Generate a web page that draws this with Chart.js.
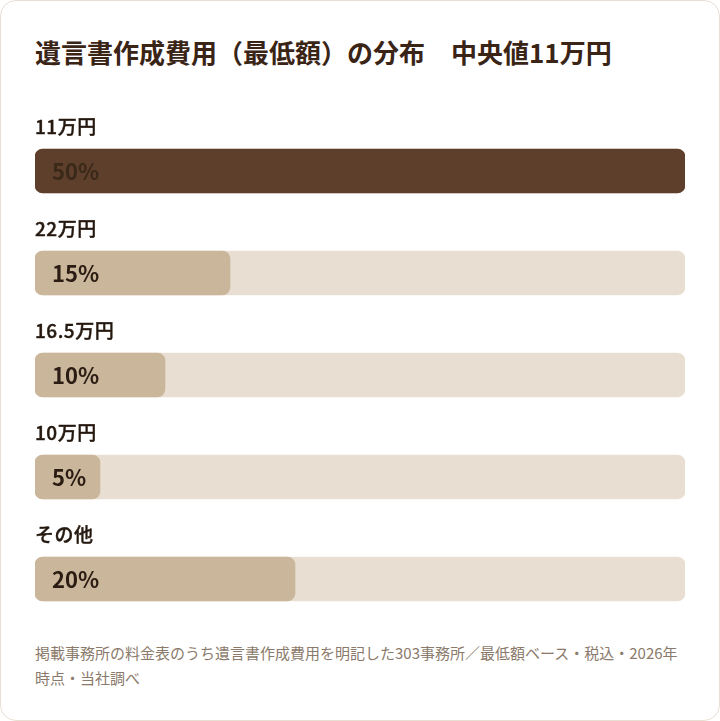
<!DOCTYPE html>
<html lang="ja">
<head>
<meta charset="utf-8">
<script src="https://cdn.jsdelivr.net/npm/chart.js@4/dist/chart.umd.min.js"></script>
<style>
    html, body { margin: 0; padding: 0; background: #ffffff; }
    body { width: 720px; height: 721px; position: relative; overflow: hidden; font-family: "Noto Sans CJK JP", "Noto Sans", sans-serif; }
    .card { position: absolute; left: 0; top: 0; width: 718px; height: 719px; border: 1px solid #e8dfd3; border-radius: 16px; background: #fff; }
    .title { position: absolute; left: 35px; top: 34px; margin: 0; font-size: 26px; line-height: 36px; font-weight: 700; color: #3a2416; white-space: nowrap; }
    .chart-box { position: absolute; left: 0; top: 100px; width: 720px; height: 540px; }
    .note { position: absolute; left: 35px; top: 640px; width: 652px; margin: 0; font-size: 15px; line-height: 25px; color: #8b7a6b; }
</style>
</head>
<body>
<div class="card"></div>
<h1 class="title">遺言書作成費用（最低額）の分布　中央値11万円</h1>
<div class="chart-box"><canvas id="distChart"></canvas></div>
<p class="note">掲載事務所の料金表のうち遺言書作成費用を明記した303事務所／最低額ベース・税込・2026年時点・当社調べ</p>

<script>
const categories = ['11万円', '22万円', '16.5万円', '10万円', 'その他'];
const shares = [50, 15, 10, 5, 20];
const trackValues = [50, 50, 50, 50, 50];
const axisMax = 50;

const fontFamily = '"Noto Sans CJK JP", "Noto Sans", sans-serif';

// category name above each bar, percent inside the bar
const barLabels = {
    id: 'barLabels',
    afterDatasetsDraw(chart) {
        const ctx = chart.ctx;
        const meta = chart.getDatasetMeta(0);
        ctx.save();
        meta.data.forEach((bar, i) => {
            ctx.textBaseline = 'middle';
            ctx.textAlign = 'left';
            ctx.fillStyle = '#24180f';
            ctx.strokeStyle = '#24180f';
            ctx.lineWidth = 0.4;
            ctx.font = `500 19px ${fontFamily}`;
            ctx.letterSpacing = '0.5px';
            // no medium face installed, so thicken the regular one a little
            ctx.fillText(categories[i], chart.chartArea.left, bar.y - 44);
            ctx.strokeText(categories[i], chart.chartArea.left, bar.y - 44);

            ctx.letterSpacing = '0px';
            ctx.fillStyle = i === 0 ? '#3a2819' : '#2a1c12';
            ctx.font = `700 22px ${fontFamily}`;
            ctx.fillText(`${shares[i]}%`, bar.base + 17, bar.y + 1);
        });
        ctx.restore();
    }
};

new Chart(document.getElementById('distChart'), {
    type: 'bar',
    data: {
        labels: categories,
        datasets: [{
            data: shares,
            backgroundColor: (ctx) => ctx.dataIndex === 0 ? '#5e3f2c' : '#c9b69b',
            borderRadius: 8,
            borderSkipped: false,
            barThickness: 44,
            grouped: false,
            order: 0
        }, {
            data: trackValues,
            backgroundColor: '#e9ded2',
            borderRadius: 8,
            borderSkipped: false,
            barThickness: 44,
            grouped: false,
            order: 1
        }]
    },
    options: {
        indexAxis: 'y',
        responsive: true,
        maintainAspectRatio: false,
        animation: false,
        layout: { padding: { left: 35, right: 35, top: 20, bottom: 10 } },
        scales: {
            x: { display: false, min: 0, max: axisMax },
            y: { display: false }
        },
        plugins: {
            legend: { display: false },
            tooltip: { enabled: false }
        }
    },
    plugins: [barLabels]
});
</script>
</body>
</html>
